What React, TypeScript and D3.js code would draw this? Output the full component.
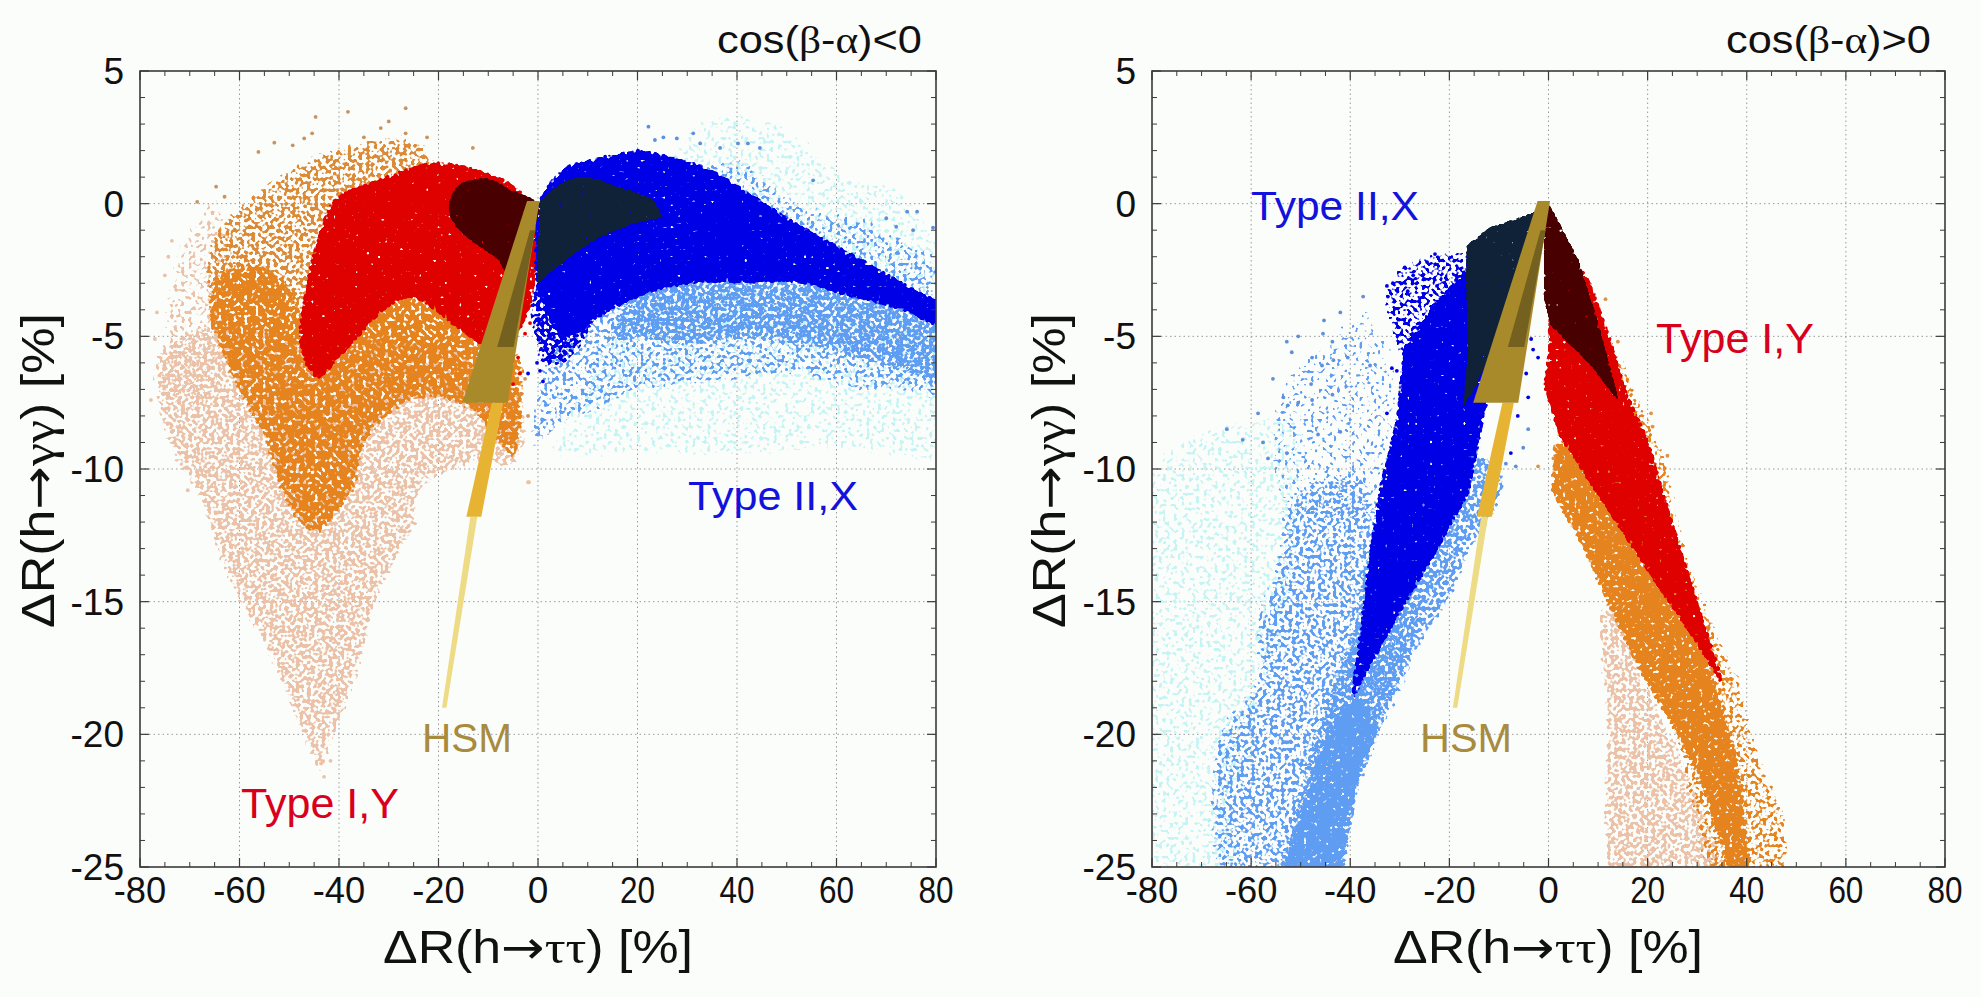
import React from "react";
import * as d3 from "d3";

type P = [number, number];

const xMajor = [-80, -60, -40, -20, 0, 20, 40, 60, 80];
const yMajor = [5, 0, -5, -10, -15, -20, -25];
const xMinor = d3.range(-75, 80, 5).filter((v) => v % 20 !== 0);
const yMinor = d3.range(-24, 5, 1).filter((v) => v % 5 !== 0);

// ---- left panel: cos(b-a)<0, region outlines
const leftCyan: P[] = [[-1,-9.9],[4,-8],[12,-5],[20,-1],[24,1.5],[32.6,3.4],[49.3,3.3],[62.7,1.4],[72.8,0.8],[80,-0.9],[86,-4],[86,-9.7],[59.3,-9.5],[39.3,-9.8],[19.2,-9.7],[0.4,-9.9]];
const leftBlueLightUpper: P[] = [[28,1],[36,1.8],[43,1.7],[49.3,0.6],[56,0],[66,-0.4],[76,-1.4],[86,-2.4],[86,-5],[60,-3],[40,-2]];
const leftBlueLight: P[] = [[-1.6,-9.4],[0.4,-6],[8,-4],[25,-2],[50,-2],[70,-3],[86,-4],[86,-7.6],[72.8,-7.15],[64.7,-7.2],[52.7,-6.6],[39.3,-6.8],[27.9,-7],[19.2,-7.2],[12.5,-7.9],[5.8,-8.3],[0.4,-9.2]];
const leftBlueLightCore: P[] = [[19,-3.2],[32,-2.8],[43,-2.8],[53,-2.8],[63,-3.2],[73,-3.6],[86,-4.5],[86,-7.3],[73,-6.4],[65,-6],[53,-5.4],[40,-5.2],[30,-5.4],[20,-5.2],[14,-5.2]];
const leftBlueFrayed: P[] = [[-1,-3],[8,-2],[12,-4],[6,-6],[1.5,-6.2],[-0.5,-5.5]];
const leftBlue: P[] = [[0,0],[5.8,1.4],[12,1.7],[20.1,2],[25.2,1.85],[34.6,1.3],[42.6,0.4],[50,-0.5],[59.3,-1.5],[68,-2.4],[76,-3.25],[86,-4.2],[86,-5],[72.8,-4],[62.7,-3.5],[52.7,-3],[43.2,-3],[31.9,-3],[24.5,-3.25],[19.2,-3.6],[12.5,-4.25],[7.8,-4.9],[4,-4.9],[1.5,-4],[-0.3,-3.1]];
const leftNavy: P[] = [[0.4,0.1],[1.2,0.25],[3.5,0.6],[5.8,0.85],[8,1],[10.5,1],[13,0.85],[15.8,0.64],[20,0.4],[23.2,0.14],[25.2,-0.5],[19.2,-0.74],[12.5,-1.25],[6.4,-2],[2.4,-2.6],[-0.27,-3.1],[0,-1.5]];
const leftPeachSparse: P[] = [[-64.3,0.6],[-74.3,-2],[-76.6,-4.9],[-77.4,-7.3],[-66,-8],[-60,-3]];
const leftPeach: P[] = [[-77.4,-7.3],[-73.5,-9.66],[-69.5,-10.8],[-63.3,-14],[-54.3,-17.2],[-47,-20.5],[-43.5,-21.7],[-41.3,-20.5],[-35.5,-17.7],[-31.9,-15],[-23.8,-12],[-23,-10.8],[-12,-9.9],[-4.7,-10],[-2,-9],[-4,-7],[-24,-5],[-44,-5],[-66,-4.5],[-76.6,-5.5]];
const leftOrangeSparse: P[] = [[-67,-3.5],[-65.5,-0.9],[-60.4,0],[-49.7,1.5],[-39,2.3],[-23.5,2.5],[-20,0.8],[-40,-1],[-46,-4],[-55,-4]];
const leftOrange: P[] = [[-66.8,-4],[-64.5,-2.6],[-58,-2.2],[-52,-2.6],[-47,-4],[-44,-5],[-26,-3.2],[-15.8,-4.2],[-9.7,-5],[-4,-5.5],[-2.8,-8],[-5,-9.7],[-11.2,-8.3],[-15,-7.7],[-24.3,-7.4],[-34,-8.9],[-37,-10.9],[-44.9,-12.5],[-52,-10.9],[-55,-9],[-59,-7.65],[-63,-6.1]];
const leftRed: P[] = [[-21.2,1.55],[-31.2,0.96],[-40.4,0.26],[-42.8,-0.5],[-45.8,-2.35],[-47.8,-5.4],[-44.3,-6.6],[-39,-5.6],[-26.2,-3.56],[-15.8,-4.76],[-9.7,-5.4],[-4.3,-4.9],[-1.2,-3.6],[-0.5,-1],[-1,0],[-5.1,0.7],[-10.4,1.2]];
const leftMaroon: P[] = [[-17.7,0.14],[-17.3,-0.63],[-13.5,-1.37],[-8.1,-2.1],[-6.2,-2.56],[-1,-1],[-0.1,0],[-5.1,0.5],[-10.4,0.95],[-15.8,0.7]];

// ---- right panel: cos(b-a)>0
const rightCyan: P[] = [[-86,-27],[-86,-11.5],[-73,-8.5],[-62,-8],[-50,-8],[-50,-14],[-60,-22],[-66,-27]];
const rightBlueLightSparseLow: P[] = [[-62,-27],[-69.3,-23.5],[-67,-19.6],[-60,-18],[-60,-15.8],[-55.7,-13.4],[-53,-11],[-38,-10],[-33,-12],[-25,-16],[-38,-22],[-45,-27]];
const rightBlueLightSparseHigh: P[] = [[-54,-11.5],[-56,-7],[-45,-5],[-37,-3.6],[-30,-6],[-33,-12]];
const rightBlueLight: P[] = [[-56,-27],[-44.9,-27],[-37.6,-21.7],[-32,-19.2],[-25,-16.5],[-19.4,-14.9],[-14.9,-12.9],[-9.3,-11.3],[-9,-10],[-20,-9],[-35,-12],[-40,-16],[-46,-19],[-52,-23]];
const rightBlueLightCore: P[] = [[-54,-27],[-45,-27],[-38,-22],[-34,-19.5],[-39,-18.5],[-47,-21]];
const rightBlueSparse: P[] = [[-33,-3],[-23,-1.8],[-15,-2],[-16,-6.5],[-29,-6]];
const rightBlue: P[] = [[-29.4,-5.5],[-30.6,-8],[-33.4,-10.2],[-34.2,-10.8],[-36.4,-13.4],[-37.6,-15.4],[-39.2,-17.7],[-39.8,-19],[-37.6,-18],[-32,-16.1],[-22.8,-13.2],[-16,-10.9],[-13,-8],[-10,-5.9],[-6,-4.5],[-3.5,-3],[-12,-2],[-17,-2.5],[-24,-4]];
const rightNavy: P[] = [[-2,-0.2],[-3.2,-0.35],[-9.5,-0.75],[-11.8,-0.9],[-14,-1.2],[-16.5,-1.6],[-16.6,-3],[-16.2,-5.5],[-17.2,-7.65],[-15,-7],[-9,-4.5],[-4,-3]];
const rightPeach: P[] = [[10,-15.4],[11,-19.3],[11,-24.2],[13.4,-27],[37,-27],[28,-21.1],[20,-18],[13.4,-14.8]];
const rightOrangeSparse: P[] = [[-0.5,-8],[3,-7],[12,-4.5],[20.7,-7.9],[24.7,-9.8],[27,-12],[30.3,-14.2],[39.4,-18],[40.5,-19],[44,-21.2],[48.5,-23],[50,-27],[33,-27],[20,-16],[6,-12]];
const rightOrange: P[] = [[0.3,-10.8],[6.6,-12.9],[11,-14.8],[17.8,-17.5],[24.4,-19.6],[29.8,-21.4],[36,-25],[38.6,-27],[42,-27],[38.5,-21],[32,-17],[27,-14],[20,-11],[12,-9],[1,-9]];
const rightRed: P[] = [[0,-4.3],[6.5,-2.4],[8.6,-3],[12.6,-5.1],[16,-7.2],[20,-8.8],[23.3,-10.9],[26.9,-13.1],[31.5,-15.8],[34.9,-17.8],[35.4,-18.4],[33.8,-17.8],[29.2,-16.4],[21.2,-14.2],[13.5,-12],[7.8,-10.4],[2,-8.7],[-1,-6.9],[0,-5.5]];
const rightMaroon: P[] = [[0.1,0],[6,-2.1],[10,-4.5],[14.3,-7.5],[8.6,-6.1],[0.5,-4.6],[-0.9,-3.6],[-0.9,-1.1]];

// ---- HSM wedges (same in both panels)
const hsmPale: P[] = [[-13.6,-11.8],[-12.2,-11.8],[-18.4,-19],[-19.3,-19]];
const hsmYellow: P[] = [[-9.3,-7.5],[-7,-7.5],[-11.4,-11.8],[-14.4,-11.8]];
const hsmGold: P[] = [[-15.2,-7.5],[-2.2,0.1],[0.3,0.1],[-6.1,-7.5]];
const hsmDark: P[] = [[-8.2,-5.4],[-4.9,-5.4],[-0.6,-1],[-1.6,-1]];

// ---- individually read sparse points
const leftOrangeDots: P[] = [[-44.7,3.27],[-38.2,3.46],[-26.6,3.6],[-30,3.1],[-31.6,2.85],[-22.3,2.5],[-45.4,2.65],[-47,2.46],[-53,2.3],[-49.3,2.2],[-56.2,1.95],[-35,2.5],[-26.6,2.65],[-13.1,2.1],[-64.7,0.64],[-63,0.26],[-68.5,0.07],[-2.6,-6.6],[-3.6,-7.2],[-2,-8]];
const leftPeachDots: P[] = [[-73.6,-1.4],[-74.3,-2],[-75,-2.7],[-76.6,-4.1],[-77,-5.1],[-77.8,-7.4],[-70.4,-10.8],[-2,-10.5],[-43.6,-21.1],[-43,-21.6],[-41.7,-21],[-1.8,-10.5]];
const leftLightDots: P[] = [[22.2,2.9],[31.2,2.65],[23.5,2.4],[25.2,2.5],[27.9,2.46],[36.6,2.1],[32.6,2.27],[42.2,2.27],[40.2,2.27],[44.6,2.1],[55.3,0.88],[74.2,-0.3],[76.2,-0.3],[70,-0.55],[72,-0.87],[75.4,-1],[79.4,-0.9]];
const leftBlueDots: P[] = [[20.1,2],[13.5,1.77],[0.4,-6.3],[2,-5.8],[-0.2,-6],[-2,-6.4],[1,-6.7]];
const leftRedDots: P[] = [[-3.6,-6.4],[-2.6,-4.9],[-4,-5.8],[-1.6,-4.5],[-5,-6.8]];
const rightBlueDots: P[] = [[-22.9,-1.9],[-29,-2.4],[-32.6,-3.1],[-31.4,-3],[-32.4,-3.5],[-27.3,-2.7],[-24.5,-2.2],[-28.4,-3.3],[-22.5,-3.1],[-26.9,-4],[-30.6,-6.3],[-31.6,-6.2],[-32.6,-7.9],[-3.5,-5.1],[-3.1,-5.5],[-2.1,-5.8],[-4.5,-6.4],[-4.1,-7.3],[-6.2,-8],[-7.6,-9.4]];
const rightLightDots: P[] = [[-37.4,-3.5],[-42,-4.1],[-45.3,-4.4],[-50.5,-5],[-45.5,-4.9],[-52.8,-5.2],[-51.8,-5.6],[-47.7,-5.8],[-45.7,-6.1],[-43.6,-5.2],[-43.4,-5.9],[-55.6,-6.6],[-47.9,-6.8],[-53.5,-7.3],[-52.6,-7.6],[-50.5,-7.5],[-47.7,-7.4],[-43.6,-7.2],[-58.6,-7.9],[-64.9,-8.5],[-61.7,-8.9],[-57.6,-9],[-52.8,-9.4],[-56.6,-9.6],[-42,-8.6],[-46.5,-8.7],[-40.5,-5.8],[-36,-6.1],[-4.1,-8.5],[-5.1,-9.2],[-8.6,-9.8],[-6.6,-9.9]];
const rightOrangeDots: P[] = [[14,-5.2],[11.5,-3.6],[20.7,-7.9],[21,-8.4],[24,-9.5],[-2.1,-9.9],[1,-9.6]];

// ---- styles
const C = {
  bg: "#fbfdfb", frame: "#3a3a3a", grid: "#9a9a9a",
  cyan: "#c6f3f3", light: "#5f9df2", blue: "#0000e6", navy: "#0f2238",
  peach: "#ebc2a8", orange: "#e5841f", red: "#df0000", maroon: "#480000",
  pale: "#eedb85", yellow: "#e6b432", gold: "#a98a2a", dark: "#75611f",
};
type Layer = { id: string; d: P[]; color: string; blur: number; thr: number; seed: number; sharp?: boolean };
const leftLayers: Layer[] = [
  { id: "l1", d: leftCyan, color: C.cyan, blur: 8, thr: 0.56, seed: 3 },
  { id: "l2a", d: leftBlueLightUpper, color: C.light, blur: 6, thr: 0.54, seed: 4 },
  { id: "l2", d: leftBlueLight, color: C.light, blur: 5, thr: 0.53, seed: 5 },
  { id: "l3", d: leftBlueLightCore, color: C.light, blur: 4, thr: 0.43, seed: 8 },
  { id: "l4a", d: leftBlueFrayed, color: C.blue, blur: 3, thr: 0.42, seed: 10 },
  { id: "l4", d: leftBlue, color: C.blue, blur: 2.5, thr: 0.22, seed: 11 },
  { id: "l5", d: leftNavy, color: C.navy, blur: 1.2, thr: 0.2, seed: 13, sharp: true },
  { id: "l6", d: leftPeachSparse, color: C.peach, blur: 8, thr: 0.55, seed: 17 },
  { id: "l7", d: leftPeach, color: C.peach, blur: 5, thr: 0.46, seed: 19 },
  { id: "l8", d: leftOrangeSparse, color: "#dc8a36", blur: 6, thr: 0.48, seed: 23 },
  { id: "l9", d: leftOrange, color: C.orange, blur: 4, thr: 0.36, seed: 29 },
  { id: "l10", d: leftRed, color: C.red, blur: 2.8, thr: 0.22, seed: 31 },
  { id: "l11", d: leftMaroon, color: C.maroon, blur: 1.2, thr: 0.2, seed: 37 },
];
const rightLayers: Layer[] = [
  { id: "r1", d: rightCyan, color: C.cyan, blur: 8, thr: 0.56, seed: 41 },
  { id: "r2", d: rightBlueLightSparseLow, color: C.light, blur: 7, thr: 0.5, seed: 43 },
  { id: "r2a", d: rightBlueLightSparseHigh, color: C.light, blur: 7, thr: 0.6, seed: 44 },
  { id: "r3", d: rightBlueLight, color: C.light, blur: 4, thr: 0.44, seed: 47 },
  { id: "r3a", d: rightBlueLightCore, color: C.light, blur: 4, thr: 0.33, seed: 48 },
  { id: "r4a", d: rightBlueSparse, color: C.blue, blur: 3.5, thr: 0.5, seed: 51 },
  { id: "r4", d: rightBlue, color: C.blue, blur: 2.4, thr: 0.22, seed: 53, sharp: true },
  { id: "r5", d: rightNavy, color: C.navy, blur: 1.2, thr: 0.2, seed: 59, sharp: true },
  { id: "r6", d: rightPeach, color: C.peach, blur: 4, thr: 0.46, seed: 61 },
  { id: "r7", d: rightOrangeSparse, color: C.orange, blur: 5, thr: 0.51, seed: 67, sharp: true },
  { id: "r8", d: rightOrange, color: C.orange, blur: 2.5, thr: 0.3, seed: 71, sharp: true },
  { id: "r9", d: rightRed, color: C.red, blur: 2.2, thr: 0.22, seed: 73, sharp: true },
  { id: "r10", d: rightMaroon, color: C.maroon, blur: 1, thr: 0.2, seed: 79, sharp: true },
];
const sans = "'Liberation Sans', Arial, sans-serif";
const serif = "'Liberation Serif', serif";
const arrowFont = "'DejaVu Sans', sans-serif";

function Speckle({ l }: { l: Layer }) {
  return (
    <filter id={l.id} filterUnits="userSpaceOnUse" x={0} y={0} width={1981} height={997} colorInterpolationFilters="sRGB">
      <feGaussianBlur in="SourceAlpha" stdDeviation={l.blur} result="b" />
      <feTurbulence type="fractalNoise" baseFrequency={0.27} numOctaves={1} seed={l.seed} result="t" />
      <feColorMatrix in="t" type="matrix" values="0 0 0 0 0  0 0 0 0 0  0 0 0 0 0  1 0 0 0 0" result="n" />
      <feComposite in="n" in2="b" operator="arithmetic" k1={1} k2={0} k3={0} k4={0} result="m" />
      <feComponentTransfer in="m" result="mask">
        <feFuncA type="linear" slope={14} intercept={-14 * l.thr} />
      </feComponentTransfer>
      <feFlood floodColor={l.color} />
      <feComposite in2="mask" operator="in" />
    </filter>
  );
}

type Txt = { t: string; f?: string }[];
const rich = (parts: Txt) =>
  parts.map((p, i) => (
    <tspan key={i} fontFamily={p.f ?? sans}>{p.t}</tspan>
  ));
const xTitle: Txt = [{ t: "ΔR(h" }, { t: "→", f: arrowFont }, { t: "ττ", f: serif }, { t: ") [%]" }];
const yTitle: Txt = [{ t: "ΔR(h" }, { t: "→", f: arrowFont }, { t: "γγ", f: serif }, { t: ") [%]" }];

type PanelProps = {
  id: string; x0: number; x1: number; layers: Layer[];
  dots: { d: P[]; color: string }[];
  labels: { t: string; x: number; y: number; color: string; size: number; len: number }[];
  headX: number; xTitleX: number; yTitleX: number;
};
const y0 = 71, y1 = 867;

function Panel(p: PanelProps) {
  const x = d3.scaleLinear().domain([-80, 80]).range([p.x0, p.x1]);
  const y = d3.scaleLinear().domain([-25, 5]).range([y1, y0]);
  const line = d3.line<P>().x((d) => x(d[0])).y((d) => y(d[1])).curve(d3.curveLinearClosed);
  const soft = d3.line<P>().x((d) => x(d[0])).y((d) => y(d[1])).curve(d3.curveCatmullRomClosed.alpha(0.5));
  const maj = 9, min = 5;
  return (
    <g>
      <defs>
        <clipPath id={p.id + "c"}><rect x={p.x0} y={y0} width={p.x1 - p.x0} height={y1 - y0} /></clipPath>
      </defs>
      {xMajor.slice(1, -1).map((v) => (
        <line key={v} x1={x(v)} x2={x(v)} y1={y0} y2={y1} stroke={C.grid} strokeWidth={1} strokeDasharray="1.5 3" />
      ))}
      {yMajor.slice(1, -1).map((v) => (
        <line key={v} x1={p.x0} x2={p.x1} y1={y(v)} y2={y(v)} stroke={C.grid} strokeWidth={1} strokeDasharray="1.5 3" />
      ))}
      <g clipPath={`url(#${p.id}c)`}>
        {p.layers.map((l) => (
          <path key={l.id} d={(l.sharp ? line(l.d) : soft(l.d)) ?? ""} fill="#000" filter={`url(#${l.id})`} />
        ))}
        {p.dots.map((g, i) =>
          g.d.map((d, j) => <circle key={i + "-" + j} cx={x(d[0])} cy={y(d[1])} r={1.9} fill={g.color} />)
        )}
        <path d={line(hsmPale) ?? ""} fill={C.pale} />
        <path d={line(hsmYellow) ?? ""} fill={C.yellow} />
        <path d={line(hsmGold) ?? ""} fill={C.gold} />
        <path d={line(hsmDark) ?? ""} fill={C.dark} />
      </g>
      <rect x={p.x0} y={y0} width={p.x1 - p.x0} height={y1 - y0} fill="none" stroke={C.frame} strokeWidth={1.6} />
      {xMajor.map((v) => (
        <g key={v} stroke={C.frame} strokeWidth={1.2}>
          <line x1={x(v)} x2={x(v)} y1={y1} y2={y1 - maj} />
          <line x1={x(v)} x2={x(v)} y1={y0} y2={y0 + maj} />
        </g>
      ))}
      {xMinor.map((v) => (
        <g key={v} stroke={C.frame} strokeWidth={1}>
          <line x1={x(v)} x2={x(v)} y1={y1} y2={y1 - min} />
          <line x1={x(v)} x2={x(v)} y1={y0} y2={y0 + min} />
        </g>
      ))}
      {yMajor.map((v) => (
        <g key={v} stroke={C.frame} strokeWidth={1.2}>
          <line x1={p.x0} x2={p.x0 + maj} y1={y(v)} y2={y(v)} />
          <line x1={p.x1} x2={p.x1 - maj} y1={y(v)} y2={y(v)} />
        </g>
      ))}
      {yMinor.map((v) => (
        <g key={v} stroke={C.frame} strokeWidth={1}>
          <line x1={p.x0} x2={p.x0 + min} y1={y(v)} y2={y(v)} />
          <line x1={p.x1} x2={p.x1 - min} y1={y(v)} y2={y(v)} />
        </g>
      ))}
      <g fontFamily={sans} fontSize={37} fill="#111">
        {xMajor.map((v) => (
          <text key={v} x={x(v)} y={903} textAnchor="middle" textLength={String(v).length === 1 ? undefined : String(v).length * 17.5} lengthAdjust="spacingAndGlyphs">{v}</text>
        ))}
        {yMajor.map((v) => (
          <text key={v} x={p.x0 - 16} y={y(v) + 13} textAnchor="end">{v}</text>
        ))}
      </g>
      <text x={p.xTitleX} y={963} fontSize={46} fill="#111" textLength={310} lengthAdjust="spacingAndGlyphs">{rich(xTitle)}</text>
      <text transform={`translate(${p.yTitleX},628) rotate(-90)`} fontSize={46} fill="#111" textLength={315} lengthAdjust="spacingAndGlyphs">{rich(yTitle)}</text>
      <text x={p.headX} y={53} fontSize={38} fill="#111" textLength={205} lengthAdjust="spacingAndGlyphs">
        {rich([{ t: "cos(" }, { t: "β", f: serif }, { t: "-" }, { t: "α", f: serif }, { t: p.id === "L" ? ")<0" : ")>0" }])}
      </text>
      {p.labels.map((l) => (
        <text key={l.t} x={l.x} y={l.y} fontFamily={sans} fontSize={l.size} fill={l.color} textLength={l.len} lengthAdjust="spacingAndGlyphs">{l.t}</text>
      ))}
    </g>
  );
}

export default function App() {
  return (
    <svg width={1981} height={997} viewBox="0 0 1981 997" style={{ position: "absolute", left: 0, top: 0, background: C.bg }}>
      <defs>
        {[...leftLayers, ...rightLayers].map((l) => <Speckle key={l.id} l={l} />)}
      </defs>
      <Panel
        id="L" x0={140} x1={936} layers={leftLayers} headX={717} xTitleX={383} yTitleX={54}
        dots={[
          { d: leftPeachDots, color: C.peach }, { d: leftOrangeDots, color: "#c9935f" },
          { d: leftLightDots, color: "#5f8fd8" }, { d: leftBlueDots, color: C.blue }, { d: leftRedDots, color: C.red },
        ]}
        labels={[
          { t: "Type II,X", x: 688, y: 510, color: "#1212dc", size: 41, len: 170 },
          { t: "Type I,Y", x: 241, y: 818, color: "#d8001c", size: 42, len: 158 },
          { t: "HSM", x: 422, y: 752, color: "#a88b3c", size: 40, len: 90 },
        ]}
      />
      <Panel
        id="R" x0={1152} x1={1945} layers={rightLayers} headX={1726} xTitleX={1393} yTitleX={1065}
        dots={[
          { d: rightLightDots, color: "#5f8fd8" }, { d: rightBlueDots, color: C.blue }, { d: rightOrangeDots, color: "#d9944f" },
        ]}
        labels={[
          { t: "Type II,X", x: 1251, y: 220, color: "#1212dc", size: 41, len: 168 },
          { t: "Type I,Y", x: 1656, y: 353, color: "#d8001c", size: 42, len: 158 },
          { t: "HSM", x: 1420, y: 752, color: "#a88b3c", size: 40, len: 92 },
        ]}
      />
    </svg>
  );
}
